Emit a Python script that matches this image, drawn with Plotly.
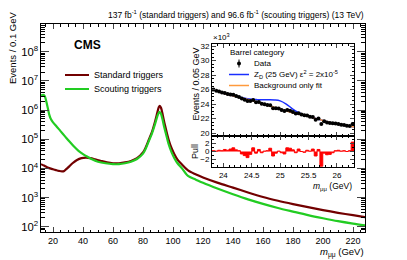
import plotly.graph_objects as go
import numpy as np

W, H = 407, 260
def px(x): return x / W
def py(y): return 1 - y / H

FONT = "Liberation Sans, Arial, Helvetica, sans-serif"

# ---------------- main panel data ----------------
std_mass = [12, 14, 16, 18, 20, 22, 24, 26, 27.5, 29, 31, 33, 36, 39, 42, 45, 48, 52, 56, 60, 64, 68, 72, 76,
            80, 82, 84, 86, 88, 89.5, 90.5, 91.2, 92, 93, 94, 95.5, 97, 99, 101, 103, 106, 110, 115, 120,
            130, 140, 150, 160, 170, 180, 190, 200, 210, 220, 228]
std_events = [1.4e4, 1.25e4, 1.1e4, 1.0e4, 9.3e3, 8.7e3, 8.2e3, 7.9e3, 8.2e3, 9.6e3, 1.2e4, 1.5e4, 1.95e4, 2.25e4,
              2.35e4, 2.25e4, 2.05e4, 1.8e4, 1.6e4, 1.5e4, 1.5e4, 1.6e4, 1.8e4, 2.25e4,
              3.5e4, 5.5e4, 1.0e5, 1.8e5, 4.0e5, 8.0e5, 1.25e6, 1.4e6, 1.2e6, 7.5e5, 4.2e5, 2.0e5, 1.0e5,
              5.0e4, 3.0e4, 2.0e4, 1.35e4, 8.5e3, 6.3e3, 4.9e3,
              3.2e3, 2.2e3, 1.5e3, 1.05e3, 780, 600, 470, 370, 300, 250, 215]

sct_mass = [12, 13.5, 14.5, 15.5, 16.5, 17.5, 18.5, 20, 22, 25, 28, 31, 34, 37, 40, 43, 46, 50, 55, 60, 64, 68, 72, 76,
            80, 82, 84, 86, 88, 89.5, 90.5, 91.2, 92, 93, 94, 95.5, 97, 99, 101, 103, 106, 110, 115, 120,
            130, 140, 150, 160, 170, 180, 190, 200, 210, 220, 228]
sct_events = [3.2e6, 3.3e6, 3.0e6, 2.0e6, 1.2e6, 7.0e5, 5.0e5, 3.8e5, 2.9e5, 1.9e5, 1.25e5, 8.3e4, 5.6e4, 4.0e4,
              3.1e4, 2.5e4, 2.05e4, 1.7e4, 1.5e4, 1.4e4, 1.4e4, 1.5e4, 1.7e4, 2.1e4,
              3.2e4, 5.0e4, 9.0e4, 1.6e5, 3.3e5, 6.0e5, 8.0e5, 8.6e5, 7.5e5, 4.8e5, 2.8e5, 1.4e5, 7.0e4,
              3.6e4, 2.2e4, 1.5e4, 1.0e4, 5.5e3, 4.2e3, 3.2e3,
              2.0e3, 1.3e3, 870, 610, 440, 330, 250, 195, 155, 128, 112]

# ---------------- inset data (events in units of 10^3) ----------------
bin_centers = [23.825, 23.875, 23.925, 23.975, 24.025, 24.075, 24.125, 24.175, 24.225, 24.275,
               24.325, 24.375, 24.425, 24.475, 24.525, 24.575, 24.625, 24.675, 24.725, 24.775,
               24.825, 24.875, 24.925, 24.975, 25.025, 25.075, 25.125, 25.175, 25.225, 25.275,
               25.325, 25.375, 25.425, 25.475, 25.525, 25.575, 25.625, 25.675, 25.725, 25.775,
               25.825, 25.875, 25.925, 25.975, 26.025, 26.075, 26.125, 26.175, 26.225, 26.275]
data_events = [26.01, 25.86, 25.76, 25.60, 25.53, 25.40, 25.34, 25.29, 25.11, 24.98,
               24.76, 24.59, 24.42, 24.44, 24.58, 24.26, 24.29, 24.04, 23.99, 23.87,
               23.84, 23.43, 23.42, 23.38, 23.20, 23.06, 23.19, 23.07, 22.91, 22.70,
               22.75, 22.57, 22.45, 22.44, 22.27, 22.23, 21.86, 22.00, 21.25, 21.64,
               21.48, 21.39, 21.35, 21.33, 21.27, 21.17, 21.11, 21.02, 20.98, 21.24]
pulls = [0.2, 0.1, 0.3, 0.2, 0.5, 0.3, 0.6, 0.9, 0.4, 0.2,
         -0.6, -1.0, -1.5, -0.7, 0.9, -0.4, 0.5, -0.3, 0.1, 0.2,
         0.8, -1.1, -0.4, 0.1, -0.3, -0.6, 0.9, 0.8, 0.4, -0.3,
         0.6, 0.0, -0.2, 0.3, 0.1, 0.6, -1.1, 0.5, -3.6, -0.4,
         -0.8, -0.7, -0.3, 0.2, 0.3, 0.1, 0.2, 0.0, 0.2, 2.3]
bin_edges = [23.8 + 0.05 * i for i in range(51)]

fit_mass = [23.8, 24.0, 24.25, 24.5, 24.75, 25.0, 25.25, 25.5, 25.75, 26.0, 26.3]
fit_events = [26.05, 25.5, 25.0, 24.5, 23.9, 23.3, 22.75, 22.3, 21.75, 21.25, 20.85]

sig_mass = [23.8, 24.0, 24.2, 24.3, 24.4, 24.5, 24.6, 24.7, 24.8, 24.9, 25.0, 25.1, 25.2, 25.3, 25.4, 25.5,
            25.75, 26.0, 26.3]
sig_events = [26.05, 25.5, 25.1, 24.95, 24.78, 24.66, 24.62, 24.6, 24.6, 24.57, 24.45, 24.05, 23.45, 22.92,
              22.55, 22.3, 21.75, 21.25, 20.85]

data_err = [float(np.sqrt(v * 1000.0) / 1000.0) for v in data_events]

RED = "#720000"
GREEN = "#22cc22"
BLUE = "#1a2fff"
ORANGE = "#ff9a3c"

fig = go.Figure()

fig.add_trace(go.Scatter(x=std_mass, y=std_events, mode="lines", name="Standard triggers",
                         line=dict(color=RED, width=2.2, shape="spline", smoothing=0.8),
                         xaxis="x", yaxis="y"))
fig.add_trace(go.Scatter(x=sct_mass, y=sct_events, mode="lines", name="Scouting triggers",
                         line=dict(color=GREEN, width=2.2, shape="spline", smoothing=0.8),
                         xaxis="x", yaxis="y"))

# inset upper
fig.add_trace(go.Scatter(x=sig_mass, y=sig_events, mode="lines",
                         name="Z_D",
                         line=dict(color=BLUE, width=1.5, shape="spline"),
                         xaxis="x2", yaxis="y2"))
fig.add_trace(go.Scatter(x=fit_mass, y=fit_events, mode="lines", name="Background only fit",
                         line=dict(color=ORANGE, width=1.5, shape="spline"),
                         xaxis="x2", yaxis="y2"))
fig.add_trace(go.Scatter(x=bin_centers, y=data_events, mode="markers", name="Data",
                         marker=dict(color="black", size=4),
                         error_y=dict(type="data", array=data_err, color="black", thickness=1, width=0),
                         xaxis="x2", yaxis="y2"))

# pull panel
fig.add_trace(go.Scatter(x=bin_edges, y=pulls + [pulls[-1]], mode="lines",
                         line=dict(color="#ff0000", width=1, shape="hv"), fill="tozeroy",
                         fillcolor="#ff0000", xaxis="x3", yaxis="y3"))

tick_font = dict(family=FONT, size=9, color="black")
small_font = dict(family=FONT, size=8, color="black")

main_x = [41, 365]
main_y = [24, 232]
ins_x = [212, 354]
ins_top = [44, 136]
ins_pull = [136, 167]

common = dict(showline=True, linecolor="black", linewidth=1, ticks="inside", mirror="allticks",
              showgrid=False, zeroline=False, automargin=False)

fig.update_layout(
    width=W, height=H, autosize=False,
    margin=dict(l=0, r=0, t=0, b=0),
    paper_bgcolor="white", plot_bgcolor="rgba(0,0,0,0)",
    font=dict(family=FONT, size=9, color="black"),
    showlegend=False,
    xaxis=dict(domain=[px(main_x[0]), px(main_x[1])], range=[12, 228], anchor="y",
               tick0=20, dtick=20, ticklen=5, tickfont=tick_font,
               minor=dict(dtick=5, ticks="inside", ticklen=2.5, tickcolor="black"), **common),
    yaxis=dict(domain=[py(main_y[1]), py(main_y[0])], type="log", range=[1.82, 8.95], anchor="x",
               dtick=1, exponentformat="power", showexponent="all", ticklen=8, tickfont=tick_font,
               minor=dict(dtick="D1", ticks="inside", ticklen=4, tickcolor="black"), **common),
    xaxis2=dict(domain=[px(ins_x[0]), px(ins_x[1])], range=[23.8, 26.3], anchor="y2",
                matches="x3", showticklabels=False, dtick=0.5, tick0=24, ticklen=4,
                minor=dict(dtick=0.1, ticks="inside", ticklen=2, tickcolor="black"), **common),
    yaxis2=dict(domain=[py(ins_top[1]), py(ins_top[0])], range=[19.6, 32.3], anchor="x2",
                dtick=2, tick0=20, ticklen=4, tickfont=small_font,
                minor=dict(dtick=0.5, ticks="inside", ticklen=2, tickcolor="black"), **common),
    xaxis3=dict(domain=[px(ins_x[0]), px(ins_x[1])], range=[23.8, 26.3], anchor="y3",
                dtick=0.5, tick0=24, ticklen=4, tickfont=small_font,
                minor=dict(dtick=0.1, ticks="inside", ticklen=2, tickcolor="black"), **common),
    yaxis3=dict(domain=[py(ins_pull[1]), py(ins_pull[0])], range=[-3.8, 3.8], anchor="x3",
                tickvals=[-2, 0, 2], ticktext=["−2", "0", "2"], ticklen=4, tickfont=small_font,
                minor=dict(dtick=1, ticks="inside", ticklen=2, tickcolor="black"), **common),
)

shapes = []
# white background for inset
shapes.append(dict(type="rect", x0=px(ins_x[0]), x1=px(ins_x[1]), y0=py(ins_pull[1]), y1=py(ins_top[0]),
                   fillcolor="white", line=dict(width=0), layer="below"))
# main legend samples
shapes.append(dict(type="line", x0=px(65), x1=px(89), y0=py(75), y1=py(75), line=dict(color=RED, width=2)))
shapes.append(dict(type="line", x0=px(65), x1=px(89), y0=py(89), y1=py(89), line=dict(color=GREEN, width=2)))
# inset legend samples
shapes.append(dict(type="line", x0=px(239), x1=px(239), y0=py(59.5), y1=py(67.5), line=dict(color="black", width=1)))
shapes.append(dict(type="circle", x0=px(237), x1=px(241), y0=py(65.5), y1=py(61.5), fillcolor="black",
                   line=dict(color="black", width=0)))
shapes.append(dict(type="line", x0=px(229), x1=px(249), y0=py(74.5), y1=py(74.5), line=dict(color=BLUE, width=1.5)))
shapes.append(dict(type="line", x0=px(229), x1=px(249), y0=py(85.5), y1=py(85.5), line=dict(color=ORANGE, width=1.5)))
for s in shapes:
    s["xref"] = "paper"
    s["yref"] = "paper"
fig.update_layout(shapes=shapes)

ann = []
def A(text, x, y, xa="left", ya="middle", size=9, angle=0):
    ann.append(dict(text=text, x=px(x), y=py(y), xanchor=xa, yanchor=ya, showarrow=False,
                    textangle=angle, xref="paper", yref="paper",
                    font=dict(family=FONT, size=size, color="black")))

A("137 fb<sup>-1</sup> (standard triggers) and 96.6 fb<sup>-1</sup> (scouting triggers) (13 TeV)",
  366, 14, xa="right", size=8.5)
A("<b>CMS</b>", 72, 45, size=12)
A("Events / 0.1 GeV", 13, 10, xa="center", ya="top", size=9.5, angle=-90)
A("<i>m</i><sub>μμ</sub> (GeV)", 366, 252, xa="right", size=9.5)
A("Standard triggers", 92, 75, size=9)
A("Scouting triggers", 92, 89, size=9)
A("×10<sup>3</sup>", 211, 37, size=8)
A("Events / 0.05 GeV", 195, 46, xa="center", ya="top", size=9, angle=-90)
A("Pull", 195, 152, xa="center", size=9, angle=-90)
A("<i>m</i><sub>μμ</sub> (GeV)", 354, 186, xa="right", size=8.5)
A("Barrel category", 228, 53, size=8)
A("Data", 252, 63.5, size=8)
A("Z<sub>D</sub> (25 GeV) ε<sup>2</sup> = 2x10<sup>-5</sup>", 252, 74.5, size=8)
A("Background only fit", 252, 85.5, size=8)
fig.update_layout(annotations=ann)

fig.write_html("out.html", config={"displayModeBar": False, "staticPlot": True},
               post_script="document.body.style.margin='0px';document.body.style.padding='0px';")
